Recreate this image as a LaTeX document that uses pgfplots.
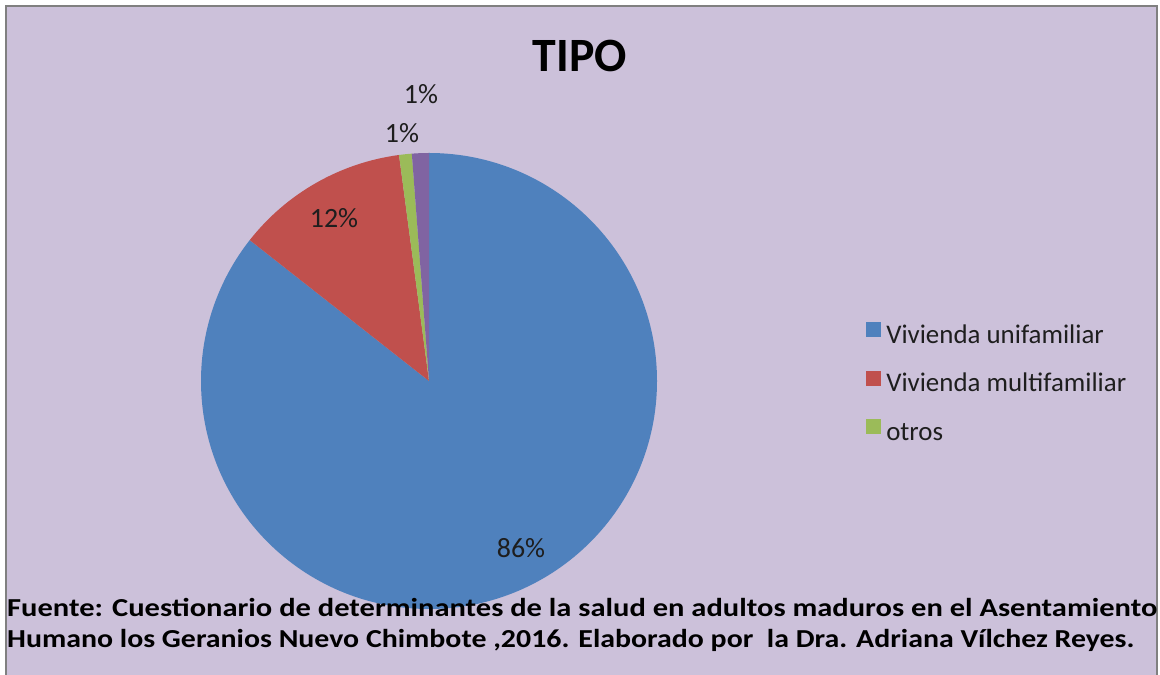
\documentclass[border=0pt]{standalone}
\usepackage{pgfplots}
\pgfplotsset{compat=1.18}
\usepackage{pgfplotstable}
\usepackage{fontspec}
\setmainfont{Carlito}
\usepackage{graphicx}
\definecolor{bg}{RGB}{204,193,218}
\definecolor{cblue}{RGB}{79,129,189}
\definecolor{cred}{RGB}{192,80,77}
\definecolor{cgreen}{RGB}{155,187,89}
\definecolor{cpurple}{RGB}{128,100,162}
\definecolor{framec}{RGB}{128,128,128}
\definecolor{txt}{RGB}{30,30,30}

\pgfplotstableread{
color value
cblue 85.6
cred 12.3
cgreen 0.9
cpurple 1.2
}\piedata

\begin{document}
\begin{tikzpicture}[x=1bp,y=1bp]
\useasboundingbox (0,0) rectangle (1160,675);
\fill[white] (0,0) rectangle (1160,675);
\fill[bg] (6,0) rectangle (1157,669);
\draw[framec, line width=2.5bp] (6,0) -- (6,669) -- (1157,669) -- (1157,0);
\begin{axis}[at={(0,0)}, anchor=south west, x=1bp, y=1bp,
  xmin=0, xmax=1160, ymin=0, ymax=675, hide axis, clip=false,
  legend image code/.code={\fill[#1] (0bp,0bp) rectangle (15bp,15bp);},
  legend cell align=left,
  legend style={at={(0.7466,0.431)}, anchor=west, draw=none, fill=none,
    font=\fontsize{27}{32}\selectfont, text=txt, inner sep=0pt, column sep=5bp, row sep=21.5bp,
    nodes={inner sep=0pt, text height=18bp, text depth=6bp}},
]
\pgfplotstablegetrowsof{\piedata}
\pgfmathtruncatemacro\nrows{\pgfplotsretval-1}
\def\curang{90}
\pgfplotsforeachungrouped \i in {0,...,\nrows}{%
  \pgfplotstablegetelem{\i}{value}\of\piedata \let\val\pgfplotsretval
  \pgfplotstablegetelem{\i}{color}\of\piedata \let\col\pgfplotsretval
  \pgfmathsetmacro\endang{\curang-3.6*\val}
  \pgfmathsetmacro\sx{429+228*cos(\curang)}
  \pgfmathsetmacro\sy{294+228*sin(\curang)}
  \edef\temp{\noexpand\fill[\col] (axis cs:429,294) -- (axis cs:\sx,\sy) arc[start angle=\curang, end angle=\endang, radius=228bp] -- cycle;}
  \temp
  \global\let\curang\endang
}
\addlegendimage{fill=cblue, draw=none}
\addlegendentry{Vivienda unifamiliar}
\addlegendimage{fill=cred, draw=none}
\addlegendentry{Vivienda multifamiliar}
\addlegendimage{fill=cgreen, draw=none}
\addlegendentry{otros}
\node[font=\fontsize{28}{32}\selectfont, text=txt, inner sep=0pt] at (axis cs:521,127) {86\%};
\node[font=\fontsize{28}{32}\selectfont, text=txt, inner sep=0pt] at (axis cs:334,457) {12\%};
\node[font=\fontsize{28}{32}\selectfont, text=txt, inner sep=0pt] at (axis cs:402,542) {1\%};
\node[font=\fontsize{28}{32}\selectfont, text=txt, inner sep=0pt] at (axis cs:421,581) {1\%};
\node[font=\fontsize{48}{54}\selectfont\bfseries, inner sep=0pt, anchor=base] at (axis cs:580,603) {TIPO};
\end{axis}
\node[anchor=base west, inner sep=0pt] at (7,58) {\resizebox{1150bp}{\height}{\fontsize{26}{31}\selectfont\bfseries Fuente: Cuestionario de determinantes de la salud en adultos maduros en el Asentamiento}};
\node[anchor=base west, inner sep=0pt] at (7,27) {\resizebox{1127bp}{\height}{\fontsize{26}{31}\selectfont\bfseries Humano los Geranios Nuevo Chimbote ,2016. Elaborado por\ \ la Dra. Adriana Vílchez Reyes.}};
\end{tikzpicture}
\end{document}
